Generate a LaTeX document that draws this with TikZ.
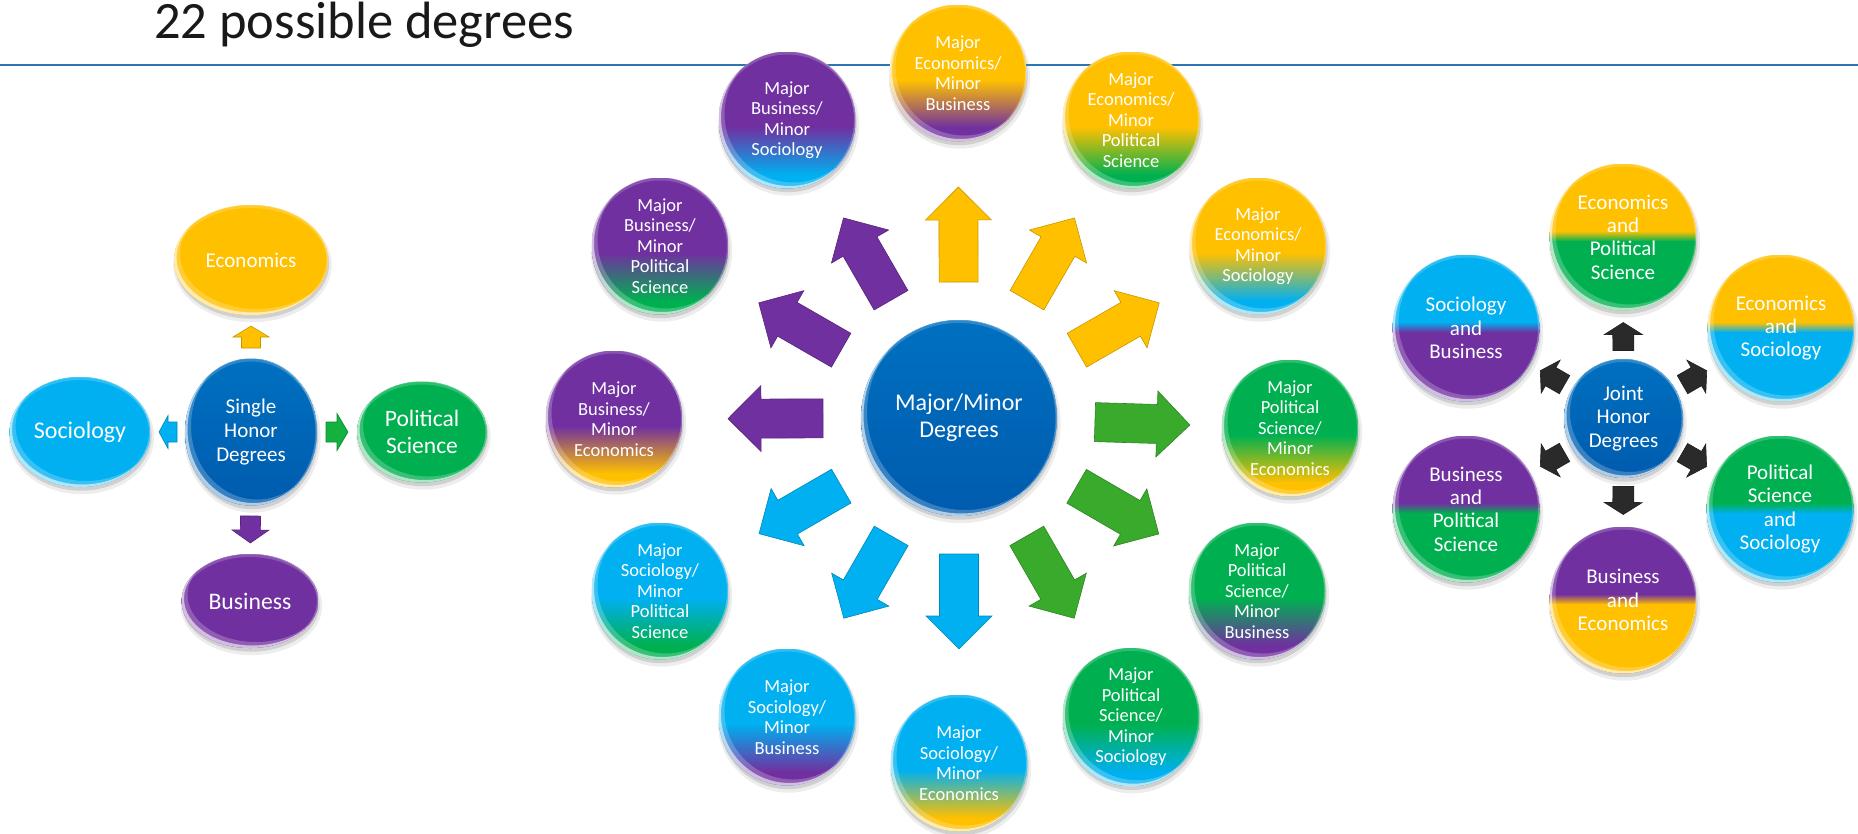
\documentclass[tikz,border=0pt]{standalone}
\usepackage{fontspec}
\setmainfont{Carlito}
\usetikzlibrary{calc,shapes.geometric}
\definecolor{yel}{HTML}{FFC000}
\definecolor{grn}{HTML}{00B050}
\definecolor{cyn}{HTML}{00B0F0}
\definecolor{pur}{HTML}{7030A0}
\definecolor{blu}{HTML}{0070C0}
\definecolor{bluD}{HTML}{005BAE}
\definecolor{agrn}{RGB}{58,170,44}
\definecolor{sgrn}{RGB}{20,176,64}
\definecolor{blk}{RGB}{42,42,42}
\definecolor{rulecol}{RGB}{46,117,182}
\pgfdeclarelayer{bg}
\pgfsetlayers{bg,main}

\newcommand\crescent[3]{% x shift, y shift, opacity
 \path[fill=white, fill opacity=#3, even odd rule] let \p1=($(path picture bounding box.north east)-(path picture bounding box.center)$) in
   (path picture bounding box.center) ellipse [x radius=\x1, y radius=\y1]
   ($(path picture bounding box.center)+(#1,#2)$) ellipse [x radius=\x1, y radius=\y1];}

\newcommand\glossfill[4]{%
 \fill[#1] (path picture bounding box.north west) rectangle (path picture bounding box.south east);
 \shade[top color=#1, bottom color=#2] ($(path picture bounding box.north west)!#3!(path picture bounding box.south west)$) rectangle ($(path picture bounding box.north east)!#4!(path picture bounding box.south east)$);
 \fill[#2] ($(path picture bounding box.north west)!#4!(path picture bounding box.south west)$) rectangle (path picture bounding box.south east);
 \crescent{6pt}{6pt}{0.22}
 \crescent{2.5pt}{2.5pt}{0.6}
 \crescent{0pt}{-3pt}{0.18}
 \crescent{-1.5pt}{0pt}{0.25}
}

% block arrow from node #1 towards node #2
\newcommand\barrow[8]{%
 \path[#8] let \p1=($(#2)-(#1)$), \n1={atan2(\y1,\x1)} in
  ($(#1)+(\n1:#3)+(\n1+90:#6)$) --
  ($(#1)+(\n1:#4)+(\n1+90:#6)$) --
  ($(#1)+(\n1:#4)+(\n1+90:#7)$) --
  ($(#1)+(\n1:#5)$) --
  ($(#1)+(\n1:#4)+(\n1-90:#7)$) --
  ($(#1)+(\n1:#4)+(\n1-90:#6)$) --
  ($(#1)+(\n1:#3)+(\n1-90:#6)$) -- cycle;}

\tikzset{
 ball/.style n args={6}{ellipse, minimum width=#1, minimum height=#2, inner sep=0pt,
   text=white, align=center, path picture={\glossfill{#3}{#4}{#5}{#6}}},
 mid/.style n args={2}{ball={137pt}{137pt}{#1}{#2}{0.55}{0.9}, font=\fontsize{18.5}{20.5}\selectfont},
 jnt/.style n args={2}{ball={147pt}{147pt}{#1}{#2}{0.46}{0.53}, font=\fontsize{21}{23.3}\selectfont},
 arr/.style={fill=#1, draw=#1!78!black, line width=0.6pt, line join=miter},
}

\begin{document}
\begin{tikzpicture}[x=1pt,y=-1pt]
\useasboundingbox (0,0) rectangle (1858,833);

% title and rule
\node[anchor=base west, inner sep=0pt, font=\fontsize{52.5}{60}\selectfont, text=black!90] (title) at (154,38) {22 possible degrees};
\coordinate (ruleL) at (0,65);
\coordinate (ruleR) at (1858,65);
\draw[rulecol, line width=2.2pt] (ruleL) -- (ruleR);

% ---------- single honor group
\node[ball={132pt}{147pt}{blu}{bluD}{0}{1}, font=\fontsize{21}{24}\selectfont] (sh) at (251,432) {Single\\Honor\\Degrees};
\node[ball={154pt}{110pt}{yel}{yel}{0}{1}, font=\fontsize{21}{24}\selectfont] (econ) at (251,260) {Economics};
\node[ball={141pt}{110pt}{cyn}{cyn}{0}{1}, font=\fontsize{24}{27}\selectfont] (soc) at (80,432) {Sociology};
\node[ball={130pt}{101pt}{grn}{grn}{0}{1}, font=\fontsize{23.5}{26.7}\selectfont] (pol) at (422,432) {Political\\Science};
\node[ball={137pt}{94pt}{pur}{pur}{0}{1}, font=\fontsize{23.7}{27}\selectfont] (bus) at (250,601) {Business};

\barrow{sh}{econ}{84pt}{95pt}{106pt}{9.5pt}{18pt}{arr=yel}
\barrow{sh}{soc}{74pt}{83pt}{92pt}{10pt}{16.5pt}{arr=cyn}
\barrow{sh}{pol}{75pt}{86pt}{97pt}{10pt}{18.5pt}{arr=sgrn}
\barrow{sh}{bus}{84pt}{98pt}{111pt}{10pt}{18.5pt}{arr=pur}

% ---------- major/minor group
\node[ball={196pt}{196pt}{blu}{bluD}{0}{1}, font=\fontsize{24}{27}\selectfont] (mm) at (959,418) {Major/Minor\\Degrees};
\node[mid={yel}{pur}] (s90) at (958,73) {Major\\Economics/\\Minor\\Business};
\node[mid={yel}{grn}] (s60) at (1131,120) {Major\\Economics/\\Minor\\Political\\Science};
\node[mid={yel}{cyn}] (s30) at (1258,246) {Major\\Economics/\\Minor\\Sociology};
\node[mid={grn}{yel}] (s0) at (1290,428) {Major\\Political\\Science/\\Minor\\Economics};
\node[mid={grn}{pur}] (sm30) at (1257,591) {Major\\Political\\Science/\\Minor\\Business};
\node[mid={grn}{cyn}] (sm60) at (1131,717) {Major\\Political\\Science/\\Minor\\Sociology};
\node[mid={cyn}{yel}] (sm90) at (959,763) {Major\\Sociology/\\Minor\\Economics};
\node[mid={cyn}{pur}] (sm120) at (787,717) {Major\\Sociology/\\Minor\\Business};
\node[mid={cyn}{grn}] (sm150) at (660,591) {Major\\Sociology/\\Minor\\Political\\Science};
\node[mid={pur}{yel}] (s180) at (614,419) {Major\\Business/\\Minor\\Economics};
\node[mid={pur}{grn}] (s150) at (660,246) {Major\\Business/\\Minor\\Political\\Science};
\node[mid={pur}{cyn}] (s120) at (787,120) {Major\\Business/\\Minor\\Sociology};

\foreach \tg/\cl in {s90/yel,s60/yel,s30/yel,s0/agrn,sm30/agrn,sm60/agrn,sm90/cyn,sm120/cyn,sm150/cyn,s180/pur,s150/pur,s120/pur}{
  \barrow{mm}{\tg}{136pt}{198pt}{231pt}{19.5pt}{33pt}{arr=\cl}
}

% ---------- joint honor group
\node[ball={119pt}{119pt}{blu}{bluD}{0}{1}, font=\fontsize{21}{23.3}\selectfont] (jj) at (1623.5,418.5) {Joint\\Honor\\Degrees};
\node[jnt={yel}{grn}] (j1) at (1623,237) {Economics\\and\\Political\\Science};
\node[jnt={yel}{cyn}] (j2) at (1781,328) {Economics\\and\\Sociology};
\node[jnt={grn}{cyn}] (j3) at (1780,509) {Political\\Science\\and\\Sociology};
\node[jnt={pur}{yel}] (j4) at (1623,600) {Business\\and\\Economics};
\node[jnt={pur}{grn}] (j5) at (1466,509) {Business\\and\\Political\\Science};
\node[jnt={cyn}{pur}] (j6) at (1466,328) {Sociology\\and\\Business};

\foreach \tg in {j1,j2,j3,j4,j5,j6}{
  \barrow{jj}{\tg}{68pt}{84pt}{96pt}{10.5pt}{19pt}{arr=blk}
}

% ---------- soft shadows behind the balls
\begin{pgfonlayer}{bg}
\foreach \bn in {sh,econ,soc,pol,bus,mm,s90,s60,s30,s0,sm30,sm60,sm90,sm120,sm150,s180,s150,s120,jj,j1,j2,j3,j4,j5,j6}{
  \path[fill=black, fill opacity=0.07] let \p1=($(\bn.east)-(\bn.center)$), \p2=($(\bn.north)-(\bn.center)$) in
    ($(\bn.center)+(1.5pt,-5pt)$) ellipse [x radius=\x1+2pt, y radius=\y2+2pt];
  \path[fill=black, fill opacity=0.12] let \p1=($(\bn.east)-(\bn.center)$), \p2=($(\bn.north)-(\bn.center)$) in
    ($(\bn.center)+(1pt,-3.5pt)$) ellipse [x radius=\x1, y radius=\y2];
}
\end{pgfonlayer}
\end{tikzpicture}
\end{document}
